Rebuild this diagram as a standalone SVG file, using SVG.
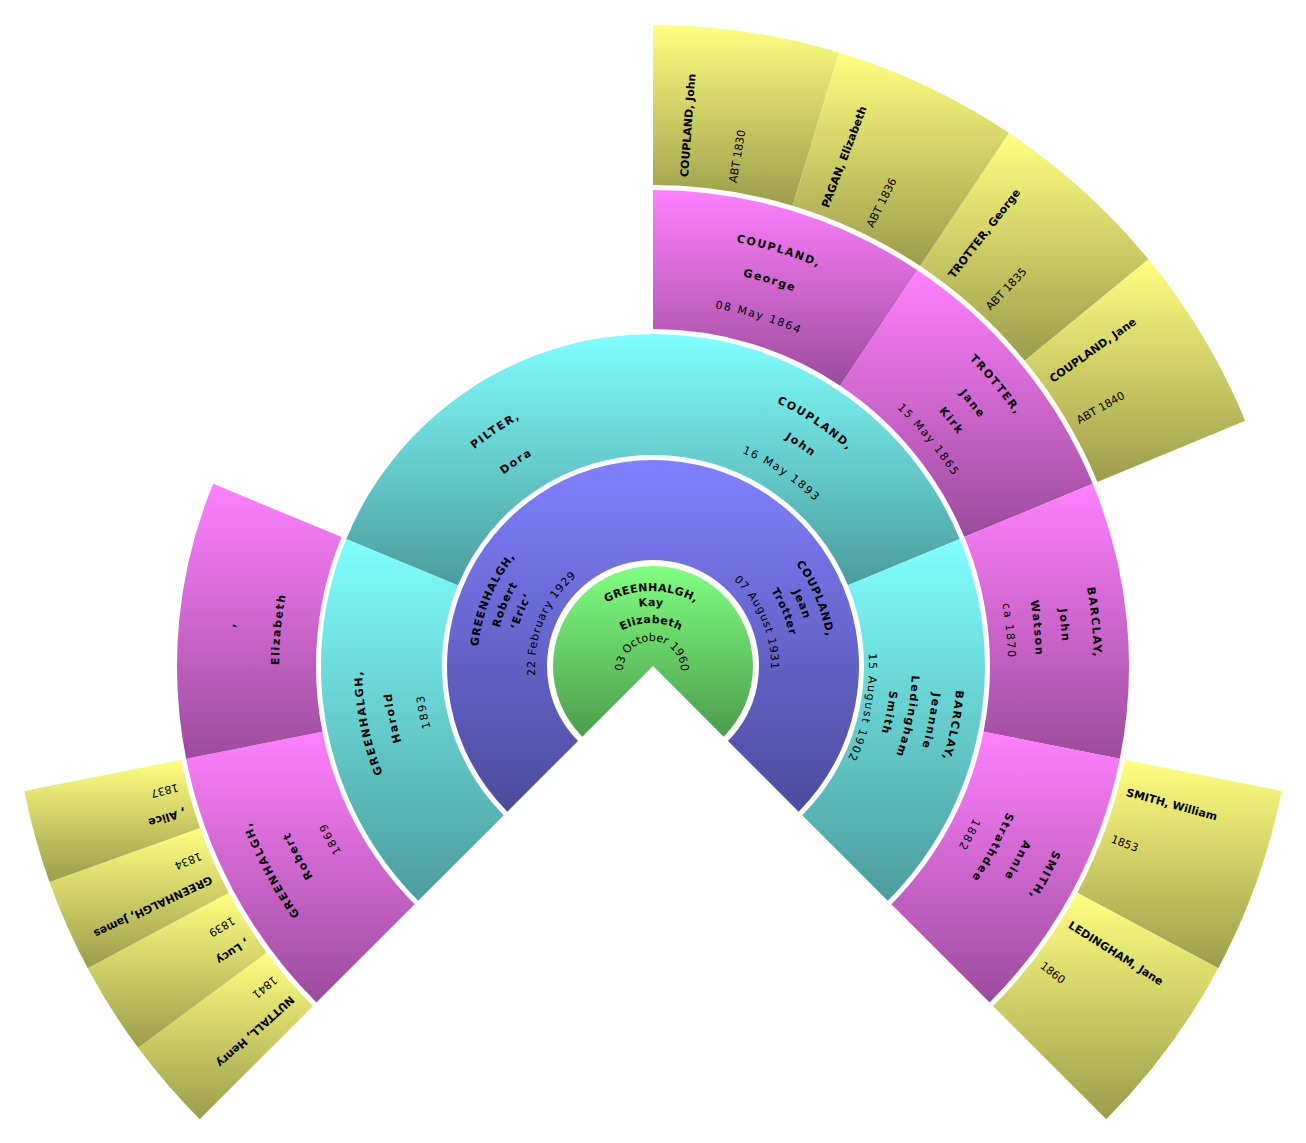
<svg xmlns="http://www.w3.org/2000/svg" xmlns:xlink="http://www.w3.org/1999/xlink" width="1306" height="1143" viewBox="0 0 1306 1143">
<style>
.t{font-family:"DejaVu Sans","Liberation Sans",sans-serif;font-size:11px;fill:#000;text-anchor:middle}
.y{font-family:"DejaVu Sans","Liberation Sans",sans-serif;font-size:11px;fill:#000;text-anchor:start}
.b{font-weight:bold}
.l0{letter-spacing:0.4px}
.l1{letter-spacing:0.9px}
.l2{letter-spacing:1.6px}
.fG{fill:url(#gG)}.fP{fill:url(#gP)}.fC{fill:url(#gC)}.fM{fill:url(#gM)}.fY{fill:url(#gY)}
</style>
<defs>
<linearGradient id="gG" x1="0" y1="0" x2="0" y2="1"><stop offset="0" stop-color="#80ff80"/><stop offset="1" stop-color="#4c9c4c"/></linearGradient>
<linearGradient id="gP" x1="0" y1="0" x2="0" y2="1"><stop offset="0" stop-color="#8080ff"/><stop offset="1" stop-color="#4c4c9c"/></linearGradient>
<linearGradient id="gC" x1="0" y1="0" x2="0" y2="1"><stop offset="0" stop-color="#80ffff"/><stop offset="1" stop-color="#4c9c9c"/></linearGradient>
<linearGradient id="gM" x1="0" y1="0" x2="0" y2="1"><stop offset="0" stop-color="#ff80ff"/><stop offset="1" stop-color="#9c4c9c"/></linearGradient>
<linearGradient id="gY" x1="0" y1="0" x2="0" y2="1"><stop offset="0" stop-color="#ffff80"/><stop offset="1" stop-color="#9c9c4c"/></linearGradient>
<path id="c93" d="M-46.5,80.54A93,93 0 1 1 46.5,80.54"/>
<path id="c78" d="M-39,67.55A78,78 0 1 1 39,67.55"/>
<path id="c61" d="M-30.5,52.83A61,61 0 1 1 30.5,52.83"/>
<path id="c29" d="M-14.5,25.11A29,29 0 1 1 14.5,25.11"/>
<path id="r118" d="M-59,102.19A118,118 0 1 1 59,102.19"/>
<path id="r140" d="M-70,121.24A140,140 0 1 1 70,121.24"/>
<path id="r158" d="M-79,136.83A158,158 0 1 1 79,136.83"/>
<path id="r176" d="M-88,152.42A176,176 0 1 1 88,152.42"/>
<path id="r216" d="M-108,187.06A216,216 0 1 1 108,187.06"/>
<path id="r231" d="M-115.5,200.05A231,231 0 1 1 115.5,200.05"/>
<path id="r238" d="M-119,206.11A238,238 0 1 1 119,206.11"/>
<path id="r243" d="M-121.5,210.44A243,243 0 1 1 121.5,210.44"/>
<path id="r259" d="M-129.5,224.30A259,259 0 1 1 129.5,224.30"/>
<path id="r263" d="M-131.5,227.77A263,263 0 1 1 131.5,227.77"/>
<path id="r281" d="M-140.5,243.35A281,281 0 1 1 140.5,243.35"/>
<path id="r291" d="M-145.5,252.01A291,291 0 1 1 145.5,252.01"/>
<path id="r304" d="M-152,263.27A304,304 0 1 1 152,263.27"/>
<path id="r355" d="M-177.5,307.44A355,355 0 1 1 177.5,307.44"/>
<path id="r363" d="M-181.5,314.37A363,363 0 1 1 181.5,314.37"/>
<path id="r374" d="M-187,323.89A374,374 0 1 1 187,323.89"/>
<path id="r383" d="M-191.5,331.69A383,383 0 1 1 191.5,331.69"/>
<path id="r400" d="M-200,346.41A400,400 0 1 1 200,346.41"/>
<path id="r410" d="M-205,355.07A410,410 0 1 1 205,355.07"/>
<path id="r420" d="M-210,363.73A420,420 0 1 1 210,363.73"/>
<path id="r432" d="M-216,374.12A432,432 0 1 1 216,374.12"/>
<path id="r441" d="M-220.5,381.92A441,441 0 1 1 220.5,381.92"/>
</defs>
<rect width="1306" height="1143" fill="#fff"/>
<g id="connectors"/>

<!-- generation 0 -->
<g id="n-greenhalgh-kay">
<path class="fG" d="M653,666 L582.29,736.71 A100,100 0 1 1 723.71,736.71 Z"/>
<text class="t b l0" transform="translate(651,684)"><textPath href="#c93" xlink:href="#c93" startOffset="50%">GREENHALGH,</textPath></text>
<text class="t b l0" transform="translate(651,684)"><textPath href="#c78" xlink:href="#c78" startOffset="50%">Kay</textPath></text>
<text class="t b l0" transform="translate(651,684)"><textPath href="#c61" xlink:href="#c61" startOffset="50%">Elizabeth</textPath></text>
<text class="t" transform="translate(652,670)"><textPath href="#c29" xlink:href="#c29" startOffset="50%">03 October 1960</textPath></text>
</g>

<!-- generation 1 -->
<g id="n-greenhalgh-robert-eric">
<path class="fP" d="M507.34,811.66 A206,206 0 0 1 653,460 L653,560 A106,106 0 0 0 578.05,740.95 Z"/>
<g transform="translate(653,666) rotate(-67.5)">
<text class="t b l1"><textPath href="#r176" xlink:href="#r176" startOffset="50%">GREENHALGH,</textPath></text>
<text class="t b l1"><textPath href="#r158" xlink:href="#r158" startOffset="50%">Robert</textPath></text>
<text class="t b l1"><textPath href="#r140" xlink:href="#r140" startOffset="50%">‘Eric’</textPath></text>
<text class="t l1"><textPath href="#r118" xlink:href="#r118" startOffset="50%">22 February 1929</textPath></text>
</g>
</g>
<g id="n-coupland-jean">
<path class="fP" d="M653,460 A206,206 0 0 1 798.66,811.66 L727.95,740.95 A106,106 0 0 0 653,560 Z"/>
<g transform="translate(653,666) rotate(67.5)">
<text class="t b l1"><textPath href="#r176" xlink:href="#r176" startOffset="50%">COUPLAND,</textPath></text>
<text class="t b l1"><textPath href="#r158" xlink:href="#r158" startOffset="50%">Jean</textPath></text>
<text class="t b l1"><textPath href="#r140" xlink:href="#r140" startOffset="50%">Trotter</textPath></text>
<text class="t l1"><textPath href="#r118" xlink:href="#r118" startOffset="50%">07 August 1931</textPath></text>
</g>
</g>

<!-- generation 2 -->
<g id="n-greenhalgh-harold">
<path class="fC" d="M418.24,900.76 A332,332 0 0 1 346.27,538.95 L458.06,585.25 A211,211 0 0 0 503.80,815.20 Z"/>
<g transform="translate(653,666) rotate(-101.25)">
<text class="t b l2"><textPath href="#r291" xlink:href="#r291" startOffset="50%">GREENHALGH,</textPath></text>
<text class="t b l2"><textPath href="#r263" xlink:href="#r263" startOffset="50%">Harold</textPath></text>
<text class="t l2"><textPath href="#r231" xlink:href="#r231" startOffset="50%">1893</textPath></text>
</g>
</g>
<g id="n-pilter-dora">
<path class="fC" d="M346.27,538.95 A332,332 0 0 1 653,334 L653,455 A211,211 0 0 0 458.06,585.25 Z"/>
<g transform="translate(653,666) rotate(-33.75)">
<text class="t b l2"><textPath href="#r281" xlink:href="#r281" startOffset="50%">PILTER,</textPath></text>
<text class="t b l2"><textPath href="#r243" xlink:href="#r243" startOffset="50%">Dora</textPath></text>
</g>
</g>
<g id="n-coupland-john-1893">
<path class="fC" d="M653,334 A332,332 0 0 1 959.73,538.95 L847.94,585.25 A211,211 0 0 0 653,455 Z"/>
<g transform="translate(653,666) rotate(33.75)">
<text class="t b l2"><textPath href="#r291" xlink:href="#r291" startOffset="50%">COUPLAND,</textPath></text>
<text class="t b l2"><textPath href="#r263" xlink:href="#r263" startOffset="50%">John</textPath></text>
<text class="t l2"><textPath href="#r231" xlink:href="#r231" startOffset="50%">16 May 1893</textPath></text>
</g>
</g>
<g id="n-barclay-jeannie">
<path class="fC" d="M959.73,538.95 A332,332 0 0 1 887.76,900.76 L802.20,815.20 A211,211 0 0 0 847.94,585.25 Z"/>
<g transform="translate(653,666) rotate(101.25)">
<text class="t b l2"><textPath href="#r304" xlink:href="#r304" startOffset="50%">BARCLAY,</textPath></text>
<text class="t b l2"><textPath href="#r281" xlink:href="#r281" startOffset="50%">Jeannie</textPath></text>
<text class="t b l2"><textPath href="#r259" xlink:href="#r259" startOffset="50%">Ledingham</textPath></text>
<text class="t b l2"><textPath href="#r238" xlink:href="#r238" startOffset="50%">Smith</textPath></text>
<text class="t l2"><textPath href="#r216" xlink:href="#r216" startOffset="50%">15 August 1902</textPath></text>
</g>
</g>

<!-- generation 3 -->
<g id="n-greenhalgh-robert-1869">
<path class="fM" d="M316.42,1002.58 A476,476 0 0 1 186.14,758.86 L322.47,731.75 A337,337 0 0 0 414.70,904.30 Z"/>
<g transform="translate(653,666) rotate(-118.125)">
<text class="t b l2"><textPath href="#r432" xlink:href="#r432" startOffset="50%">GREENHALGH,</textPath></text>
<text class="t b l2"><textPath href="#r400" xlink:href="#r400" startOffset="50%">Robert</textPath></text>
<text class="t l2"><textPath href="#r363" xlink:href="#r363" startOffset="50%">1869</textPath></text>
</g>
</g>
<g id="n-elizabeth">
<path class="fM" d="M186.14,758.86 A476,476 0 0 1 213.23,483.84 L341.65,537.04 A337,337 0 0 0 322.47,731.75 Z"/>
<g transform="translate(653,666) rotate(-84.375)">
<text class="t b l2"><textPath href="#r420" xlink:href="#r420" startOffset="50%">,</textPath></text>
<text class="t b l2"><textPath href="#r374" xlink:href="#r374" startOffset="50%">Elizabeth</textPath></text>
</g>
</g>
<g id="n-coupland-george">
<path class="fM" d="M653,190 A476,476 0 0 1 917.45,270.22 L840.23,385.79 A337,337 0 0 0 653,329 Z"/>
<g transform="translate(653,666) rotate(16.875)">
<text class="t b l2"><textPath href="#r432" xlink:href="#r432" startOffset="50%">COUPLAND,</textPath></text>
<text class="t b l2"><textPath href="#r400" xlink:href="#r400" startOffset="50%">George</textPath></text>
<text class="t l2"><textPath href="#r363" xlink:href="#r363" startOffset="50%">08 May 1864</textPath></text>
</g>
</g>
<g id="n-trotter-jane">
<path class="fM" d="M917.45,270.22 A476,476 0 0 1 1092.77,483.84 L964.35,537.04 A337,337 0 0 0 840.23,385.79 Z"/>
<g transform="translate(653,666) rotate(50.625)">
<text class="t b l2"><textPath href="#r441" xlink:href="#r441" startOffset="50%">TROTTER,</textPath></text>
<text class="t b l2"><textPath href="#r410" xlink:href="#r410" startOffset="50%">Jane</textPath></text>
<text class="t b l2"><textPath href="#r383" xlink:href="#r383" startOffset="50%">Kirk</textPath></text>
<text class="t l2"><textPath href="#r355" xlink:href="#r355" startOffset="50%">15 May 1865</textPath></text>
</g>
</g>
<g id="n-barclay-john">
<path class="fM" d="M1092.77,483.84 A476,476 0 0 1 1119.86,758.86 L983.53,731.75 A337,337 0 0 0 964.35,537.04 Z"/>
<g transform="translate(653,666) rotate(84.375)">
<text class="t b l2"><textPath href="#r441" xlink:href="#r441" startOffset="50%">BARCLAY,</textPath></text>
<text class="t b l2"><textPath href="#r410" xlink:href="#r410" startOffset="50%">John</textPath></text>
<text class="t b l2"><textPath href="#r383" xlink:href="#r383" startOffset="50%">Watson</textPath></text>
<text class="t l2"><textPath href="#r355" xlink:href="#r355" startOffset="50%">ca 1870</textPath></text>
</g>
</g>
<g id="n-smith-annie">
<path class="fM" d="M1119.86,758.86 A476,476 0 0 1 989.58,1002.58 L891.30,904.30 A337,337 0 0 0 983.53,731.75 Z"/>
<g transform="translate(653,666) rotate(118.125)">
<text class="t b l2"><textPath href="#r441" xlink:href="#r441" startOffset="50%">SMITH,</textPath></text>
<text class="t b l2"><textPath href="#r410" xlink:href="#r410" startOffset="50%">Annie</textPath></text>
<text class="t b l2"><textPath href="#r383" xlink:href="#r383" startOffset="50%">Strathdee</textPath></text>
<text class="t l2"><textPath href="#r355" xlink:href="#r355" startOffset="50%">1882</textPath></text>
</g>
</g>

<!-- generation 4 -->
<g id="n-coupland-john-1830">
<path class="fY" d="M653,25 A641,641 0 0 1 839.07,52.60 L792.62,205.71 A481,481 0 0 0 653,185 Z"/>
<text class="y b" x="490" y="0" transform="translate(653,666) rotate(-85.9)">COUPLAND, John</text>
<text class="y" x="490" y="0" transform="translate(653,666) rotate(-80.2)">ABT 1830</text>
</g>
<g id="n-pagan-elizabeth">
<path class="fY" d="M839.07,52.60 A641,641 0 0 1 1009.12,133.03 L920.23,266.06 A481,481 0 0 0 792.62,205.71 Z"/>
<text class="y b" x="490" y="0" transform="translate(653,666) rotate(-69.025)">PAGAN, Elizabeth</text>
<text class="y" x="490" y="0" transform="translate(653,666) rotate(-63.325)">ABT 1836</text>
</g>
<g id="n-trotter-george">
<path class="fY" d="M1009.12,133.03 A641,641 0 0 1 1148.50,259.36 L1024.82,360.86 A481,481 0 0 0 920.23,266.06 Z"/>
<text class="y b" x="490" y="0" transform="translate(653,666) rotate(-52.15)">TROTTER, George</text>
<text class="y" x="490" y="0" transform="translate(653,666) rotate(-46.45)">ABT 1835</text>
</g>
<g id="n-coupland-jane">
<path class="fY" d="M1148.50,259.36 A641,641 0 0 1 1245.21,420.70 L1097.39,481.93 A481,481 0 0 0 1024.82,360.86 Z"/>
<text class="y b" x="490" y="0" transform="translate(653,666) rotate(-35.275)">COUPLAND, Jane</text>
<text class="y" x="490" y="0" transform="translate(653,666) rotate(-29.575)">ABT 1840</text>
</g>
<g id="n-smith-william">
<path class="fY" d="M1281.69,791.05 A641,641 0 0 1 1218.31,968.17 L1077.20,892.74 A481,481 0 0 0 1124.76,759.84 Z"/>
<text class="y b" x="490" y="0" transform="translate(653,666) rotate(15.35)">SMITH, William</text>
<text class="y" x="490" y="0" transform="translate(653,666) rotate(21.05)">1853</text>
</g>
<g id="n-ledingham-jane">
<path class="fY" d="M1218.31,968.17 A641,641 0 0 1 1106.26,1119.26 L993.12,1006.12 A481,481 0 0 0 1077.20,892.74 Z"/>
<text class="y b" x="490" y="0" transform="translate(653,666) rotate(32.225)">LEDINGHAM, Jane</text>
<text class="y" x="490" y="0" transform="translate(653,666) rotate(37.925)">1860</text>
</g>
<g id="n-nuttall-henry">
<path class="fY" d="M199.74,1119.26 A641,641 0 0 1 138.14,1047.84 L266.66,952.53 A481,481 0 0 0 312.88,1006.12 Z"/>
<text class="y b" x="490" y="0" transform="translate(653,666) rotate(-222.2)">NUTTALL, Henry</text>
<text class="y" x="490" y="0" transform="translate(653,666) rotate(-219.2)">1841</text>
</g>
<g id="n-lucy">
<path class="fY" d="M138.14,1047.84 A641,641 0 0 1 87.69,968.17 L228.80,892.74 A481,481 0 0 0 266.66,952.53 Z"/>
<text class="y b" x="490" y="0" transform="translate(653,666) rotate(-213.76)">, Lucy</text>
<text class="y" x="490" y="0" transform="translate(653,666) rotate(-210.76)">1839</text>
</g>
<g id="n-greenhalgh-james">
<path class="fY" d="M87.69,968.17 A641,641 0 0 1 49.47,881.95 L200.12,828.04 A481,481 0 0 0 228.80,892.74 Z"/>
<text class="y b" x="490" y="0" transform="translate(653,666) rotate(-205.33)">GREENHALGH, James</text>
<text class="y" x="490" y="0" transform="translate(653,666) rotate(-202.33)">1834</text>
</g>
<g id="n-alice">
<path class="fY" d="M49.47,881.95 A641,641 0 0 1 24.31,791.05 L181.24,759.84 A481,481 0 0 0 200.12,828.04 Z"/>
<text class="y b" x="490" y="0" transform="translate(653,666) rotate(-196.89)">, Alice</text>
<text class="y" x="490" y="0" transform="translate(653,666) rotate(-193.89)">1837</text>
</g>
</svg>
